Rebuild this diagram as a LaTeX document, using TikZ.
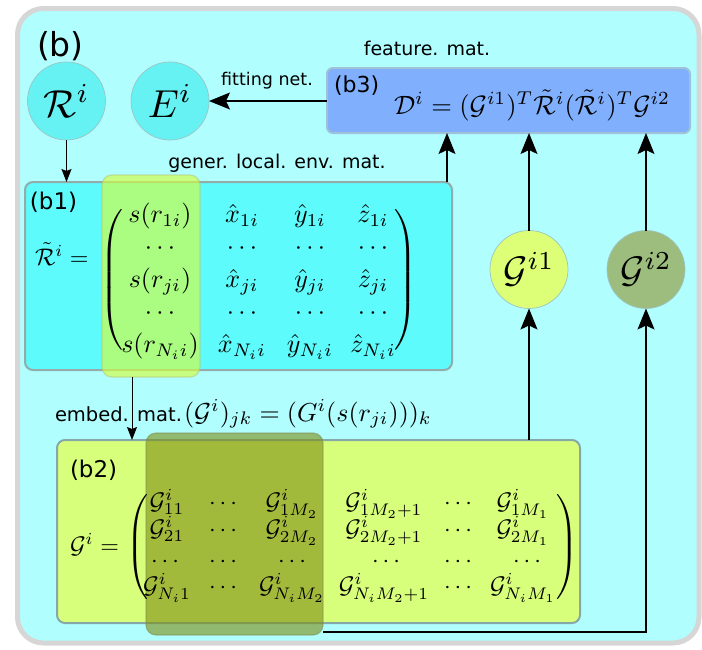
\documentclass[tikz,border=0pt]{standalone}
\usepackage{graphicx}
\usepackage{fontspec}
\setsansfont{DejaVu Sans}
\usetikzlibrary{arrows.meta,calc}
\definecolor{bgcyan}{HTML}{B0FEFE}
\definecolor{framegray}{HTML}{D6D6D6}
\definecolor{cyanbub}{HTML}{66F2F2}
\definecolor{bubbleedge}{HTML}{9DC4C4}
\definecolor{b1fill}{HTML}{5DFBFB}
\definecolor{b1edge}{HTML}{94ABAB}
\definecolor{hlyellow}{HTML}{D4FF40}
\definecolor{hlyedge}{HTML}{B8C070}
\definecolor{b2fill}{HTML}{D8FF7B}
\definecolor{b2edge}{HTML}{86A8A8}
\definecolor{hlolive}{HTML}{7D8C12}
\definecolor{hloedge}{HTML}{7A8A50}
\definecolor{b3fill}{HTML}{7FAFFD}
\definecolor{b3edge}{HTML}{9DC2DA}
\definecolor{gonefill}{HTML}{DDFF77}
\definecolor{gtwofill}{HTML}{9DBD7E}
\newcommand\setfs[1]{\fontsize{#1}{#1}\selectfont}
\newcommand\mm[2]{\scalebox{#1}{$#2$}}
\begin{document}
\begin{tikzpicture}[x=1pt,y=-1pt,
  every node/.style={inner sep=0pt, outer sep=0pt},
  bubble/.style={circle, minimum size=78pt, line width=0.7pt, draw=bubbleedge},
  panel/.style={rectangle, rounded corners=8pt, line width=2pt},
  hilite/.style={rectangle, rounded corners=10pt, line width=1.2pt},
  lbl/.style={anchor=base},
  arr/.style={line width=1.3pt, -{Stealth[length=21pt,width=17pt,inset=4pt]}},
  arrs/.style={line width=1pt, -{Stealth[length=13pt,width=10pt,inset=2pt]}},
  entA/.style={anchor=base},
  entB/.style={anchor=base}
]
\useasboundingbox (0,0) rectangle (702,649);
\nulldelimiterspace=0pt
% frame
\node[draw=framegray, line width=5pt, fill=bgcyan, rounded corners=26pt,
      minimum width=681.5pt, minimum height=634.5pt] (frame) at (358.25,325.75) {};
% panels
\node[panel, fill=b1fill, draw=b1edge, minimum width=427pt, minimum height=188pt] (b1) at (238.5,276) {};
\node[hilite, fill=hlyellow, fill opacity=0.65, draw=hlyedge, draw opacity=0.5,
      minimum width=98pt, minimum height=202pt] (hl1) at (151,276) {};
\node[panel, fill=b2fill, draw=b2edge, minimum width=523pt, minimum height=183pt] (b2) at (318.5,531.5) {};
\node[hilite, fill=hlolive, fill opacity=0.6, draw=hloedge, draw opacity=0.5,
      minimum width=177pt, minimum height=202pt] (hl2) at (234.5,534) {};
\node[panel, rounded corners=6pt, fill=b3fill, draw=b3edge, minimum width=363pt, minimum height=65pt] (b3) at (508.5,100.5) {};
% bubbles
\node[bubble, fill=cyanbub] (R) at (66.5,101) {\mm{3.9}{\mathcal{R}^i}};
\node[bubble, fill=cyanbub] (E) at (170,101) {\mm{3.9}{E^i}};
\node[bubble, fill=gonefill] (G1) at (529,269.5) {\mm{3.7}{\mathcal{G}^{i1}}};
\node[bubble, fill=gtwofill] (G2) at (646,269.5) {\mm{3.7}{\mathcal{G}^{i2}}};
% labels
\node[lbl, anchor=base west, font=\sffamily\setfs{33}] (lb) at (37,56) {(b)};
\node[lbl, anchor=base west, font=\sffamily\setfs{23}] (lb1) at (30,209) {(b1)};
\node[lbl, anchor=base west, font=\sffamily\setfs{23}] (lb2) at (70,477) {(b2)};
\node[lbl, anchor=base west, font=\sffamily\setfs{22}] (lb3) at (334,92) {(b3)};
\node[lbl, font=\sffamily\setfs{19}] (tfeat) at (427,55) {feature. mat.};
\node[lbl, font=\sffamily\setfs{17.5}] (tfit) at (267,85) {fitting net.};
\node[lbl, font=\sffamily\setfs{19}] (tgen) at (277,168) {gener. local. env. mat.};
\node[lbl, anchor=base west, font=\sffamily\setfs{19.5}] (temb) at (55,421) {embed. mat.};
\node[lbl, anchor=base west] (memb) at (184,421)
  {\mm{2.6}{(\mathcal{G}^i)_{jk}=(G^i(s(r_{ji})))_k}};
\node[lbl] (Dform) at (532,114)
  {\mm{2.65}{\mathcal{D}^i=(\mathcal{G}^{i1})^T\tilde{\mathcal{R}}^i(\tilde{\mathcal{R}}^i)^T\mathcal{G}^{i2}}};
\node[lbl, anchor=base west] (Req) at (35,265) {\mm{2.4}{\tilde{\mathcal{R}}^i=}};
\node[lbl, anchor=base west] (Geq) at (70,553) {\mm{2.4}{\mathcal{G}^i=}};
% matrix b1
\node (lpA) at (112,280) {\mm{2.6}{\left(\vcenter{\hbox{\vrule height 58pt width 0pt}}\right.}};
\node (rpA) at (406,280) {\mm{2.6}{\left.\vcenter{\hbox{\vrule height 58pt width 0pt}}\right)}};
\foreach \x/\e [count=\c] in {160/{s(r_{1i})},242/{\hat{x}_{1i}},310/{\hat{y}_{1i}},373/{\hat{z}_{1i}}}
  \node[entA] (mA-1-\c) at (\x,222.5) {\mm{2.6}{\e}};
\foreach \x [count=\c] in {160,242,310,373}
  \node[entA] (mA-2-\c) at (\x,254.5) {\mm{2.6}{\cdots}};
\foreach \x/\e [count=\c] in {160/{s(r_{ji})},242/{\hat{x}_{ji}},310/{\hat{y}_{ji}},373/{\hat{z}_{ji}}}
  \node[entA] (mA-3-\c) at (\x,287.5) {\mm{2.6}{\e}};
\foreach \x [count=\c] in {160,242,310,373}
  \node[entA] (mA-4-\c) at (\x,319.5) {\mm{2.6}{\cdots}};
\foreach \x/\e [count=\c] in {160/{s(r_{N_ii})},242/{\hat{x}_{N_ii}},310/{\hat{y}_{N_ii}},373/{\hat{z}_{N_ii}}}
  \node[entA] (mA-5-\c) at (\x,352.5) {\mm{2.6}{\e}};
% matrix b2
\node (lpB) at (137,547) {\mm{2.5}{\left(\vcenter{\hbox{\vrule height 45pt width 0pt}}\right.}};
\node (rpB) at (567,547) {\mm{2.5}{\left.\vcenter{\hbox{\vrule height 45pt width 0pt}}\right)}};
\foreach \x/\e [count=\c] in {167/{\mathcal{G}^i_{11}},223/{\cdots},292/{\mathcal{G}^i_{1M_2}},384/{\mathcal{G}^i_{1M_2+1}},458/{\cdots},523/{\mathcal{G}^i_{1M_1}}}
  \node[entB] (mB-1-\c) at (\x,509) {\mm{2.4}{\e}};
\foreach \x/\e [count=\c] in {167/{\mathcal{G}^i_{21}},223/{\cdots},292/{\mathcal{G}^i_{2M_2}},384/{\mathcal{G}^i_{2M_2+1}},458/{\cdots},523/{\mathcal{G}^i_{2M_1}}}
  \node[entB] (mB-2-\c) at (\x,536) {\mm{2.4}{\e}};
\foreach \x [count=\c] in {165,223,292,386,458,527}
  \node[entB] (mB-3-\c) at (\x,567) {\mm{2.4}{\cdots}};
\foreach \x/\e [count=\c] in {167/{\mathcal{G}^i_{N_i1}},223/{\cdots},292/{\mathcal{G}^i_{N_iM_2}},384/{\mathcal{G}^i_{N_iM_2+1}},458/{\cdots},523/{\mathcal{G}^i_{N_iM_1}}}
  \node[entB] (mB-4-\c) at (\x,593) {\mm{2.4}{\e}};
% connectors
\draw[arr] (b3.west |- E) -- (E);
\draw[arrs] (R) -- (R |- b1.north);
\coordinate (c1) at ([xshift=-5pt]b1.north east);
\draw[arr] (c1) -- (c1 |- b3.south);
\draw[arr] (G1) -- (G1 |- b3.south);
\draw[arr] (G2) -- (G2 |- b3.south);
\draw[arr] (G1 |- b2.north) -- (G1);
\coordinate (c2) at ([yshift=3pt]hl2.south east);
\draw[arr] (c2) -| (G2);
\coordinate (c3) at ([xshift=-19pt]hl1.south);
\draw[arrs] (c3) -- (c3 |- b2.north);
\end{tikzpicture}
\end{document}
